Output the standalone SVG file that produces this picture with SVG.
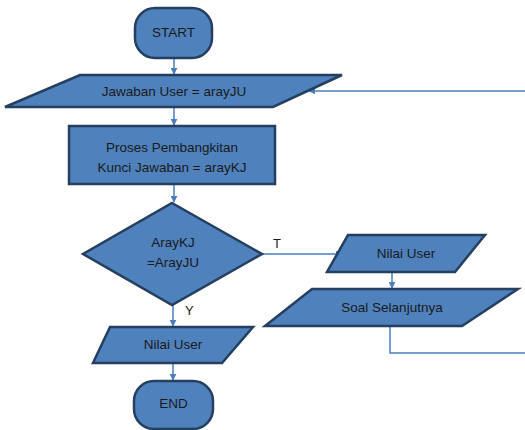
<svg xmlns="http://www.w3.org/2000/svg" width="525" height="430" viewBox="0 0 525 430">
<defs>
<marker id="ah" viewBox="0 0 10 10" refX="9" refY="5" markerWidth="7" markerHeight="7" markerUnits="userSpaceOnUse" orient="auto">
<path d="M0,0 L10,5 L0,10 z" fill="#4A7EBB"/>
</marker>
<style>
.shape{fill:#4F81BD;stroke:#243F60;stroke-width:2.5;stroke-linejoin:miter}
.t{font-family:"Liberation Sans",Arial,sans-serif;font-size:13.5px;fill:#1a1a1a;text-anchor:middle}
.c{fill:none;stroke:#4A7EBB;stroke-width:1.5}
.lbl{font-family:"Liberation Sans",Arial,sans-serif;font-size:13px;fill:#1a1a1a}
</style>
</defs>
<rect width="525" height="430" fill="#ffffff"/>
<g id="connectors">
<line class="c" x1="174" y1="58" x2="174" y2="74" marker-end="url(#ah)"/>
<line class="c" x1="174" y1="107" x2="174" y2="125" marker-end="url(#ah)"/>
<line class="c" x1="174" y1="184" x2="174" y2="202" marker-end="url(#ah)"/>
<line class="c" x1="262" y1="254" x2="342" y2="254" marker-end="url(#ah)"/>
<line class="c" x1="392" y1="272" x2="392" y2="288" marker-end="url(#ah)"/>
<polyline class="c" points="390,326 390,353 525,353"/>
<line class="c" x1="525" y1="91" x2="309" y2="91" marker-end="url(#ah)"/>
<line class="c" x1="173" y1="305" x2="173" y2="326" marker-end="url(#ah)"/>
<line class="c" x1="173" y1="363" x2="173" y2="380" marker-end="url(#ah)"/>
<text class="lbl" x="273" y="248">T</text>
<text class="lbl" x="185" y="315">Y</text>
</g>
<g id="start">
<rect class="shape" x="135" y="8" width="77" height="50" rx="20" ry="20"/>
<text class="t" x="173.5" y="37">START</text>
</g>
<g id="input-jawaban">
<polygon class="shape" points="80,75 342,75 273,107 5,107"/>
<text class="t" x="174" y="96">Jawaban User = arayJU</text>
</g>
<g id="proses">
<rect class="shape" x="69" y="126" width="206" height="58"/>
<text class="t" x="172" y="152">Proses Pembangkitan</text>
<text class="t" x="172" y="172">Kunci Jawaban = arayKJ</text>
</g>
<g id="decision">
<polygon class="shape" points="172,203 262,254 172,305 83,254"/>
<text class="t" x="173" y="247">ArayKJ</text>
<text class="t" x="173" y="267">=ArayJU</text>
</g>
<g id="nilai-user-right">
<polygon class="shape" points="348,235 485,235 455,272 327,272"/>
<text class="t" x="406" y="258">Nilai User</text>
</g>
<g id="soal">
<polygon class="shape" points="312,289 518,289 462,326 265,326"/>
<text class="t" x="392" y="312">Soal Selanjutnya</text>
</g>
<g id="nilai-user-left">
<polygon class="shape" points="110,327 253,327 222,363 93,363"/>
<text class="t" x="173" y="349">Nilai User</text>
</g>
<g id="end">
<rect class="shape" x="134" y="381" width="79" height="48" rx="20" ry="20"/>
<text class="t" x="173.5" y="408">END</text>
</g>
</svg>
